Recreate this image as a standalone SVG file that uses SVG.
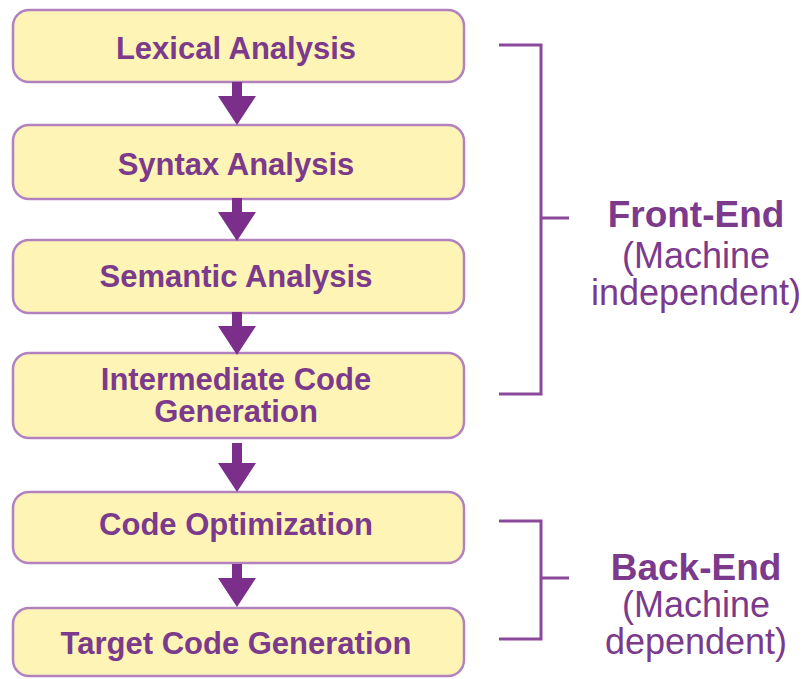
<svg xmlns="http://www.w3.org/2000/svg" width="811" height="679" viewBox="0 0 811 679">
  <style>
    .box { fill: #fdf4b6; stroke: #b282c0; stroke-width: 2.5; }
    .lbl { font-family: "Liberation Sans", Arial, sans-serif; font-weight: bold; font-size: 31px; fill: #7b3a8c; text-anchor: middle; }
    .arrow { fill: #7b2e8a; }
    .brace { fill: none; stroke: #8a4a9c; stroke-width: 3; }
    .side { font-family: "Liberation Sans", Arial, sans-serif; font-size: 36px; fill: #7b3a8c; text-anchor: middle; }
    .side-b { font-weight: bold; font-size: 37px; }
  </style>
  <defs>
    <!-- downward block arrow, origin at stem top -->
    <path id="down" d="M-5,0 H5 V14 H19 L0,43 L-19,14 H-5 Z"/>
  </defs>
  <rect width="811" height="679" fill="#ffffff"/>

  <g id="lexical">
    <rect class="box" x="13" y="10" width="451" height="72" rx="16"/>
    <text class="lbl" x="236" y="59">Lexical Analysis</text>
  </g>
  <g id="syntax">
    <rect class="box" x="13" y="125" width="451" height="74" rx="16"/>
    <text class="lbl" x="236" y="175">Syntax Analysis</text>
  </g>
  <g id="semantic">
    <rect class="box" x="13" y="240" width="451" height="73" rx="16"/>
    <text class="lbl" x="236" y="287">Semantic Analysis</text>
  </g>
  <g id="intermediate">
    <rect class="box" x="13" y="353" width="451" height="85" rx="16"/>
    <text class="lbl" x="236" y="390">Intermediate Code</text>
    <text class="lbl" x="236" y="422">Generation</text>
  </g>
  <g id="optimization">
    <rect class="box" x="13" y="492" width="451" height="71" rx="16"/>
    <text class="lbl" x="236" y="535">Code Optimization</text>
  </g>
  <g id="target">
    <rect class="box" x="13" y="608" width="451" height="68" rx="16"/>
    <text class="lbl" x="236" y="654">Target Code Generation</text>
  </g>

  <g id="connectors">
    <use href="#down" class="arrow" x="237" y="82"/>
    <use href="#down" class="arrow" x="237" y="198"/>
    <use href="#down" class="arrow" x="237" y="312"/>
    <g transform="translate(237,443)">
      <path class="arrow" d="M-5,0 H5 V20 H19 L0,49 L-19,20 H-5 Z"/>
    </g>
    <use href="#down" class="arrow" x="237" y="564"/>
  </g>

  <g id="front-end">
    <path class="brace" d="M499,45 H541 V394 H499 M541,218 H569"/>
    <text class="side side-b" x="696" y="227">Front-End</text>
    <text class="side" x="696" y="268">(Machine</text>
    <text class="side" x="696" y="305">independent)</text>
  </g>
  <g id="back-end">
    <path class="brace" d="M499,521 H541 V639 H499 M541,578 H569"/>
    <text class="side side-b" x="696" y="580">Back-End</text>
    <text class="side" x="696" y="617">(Machine</text>
    <text class="side" x="696" y="654">dependent)</text>
  </g>
</svg>
